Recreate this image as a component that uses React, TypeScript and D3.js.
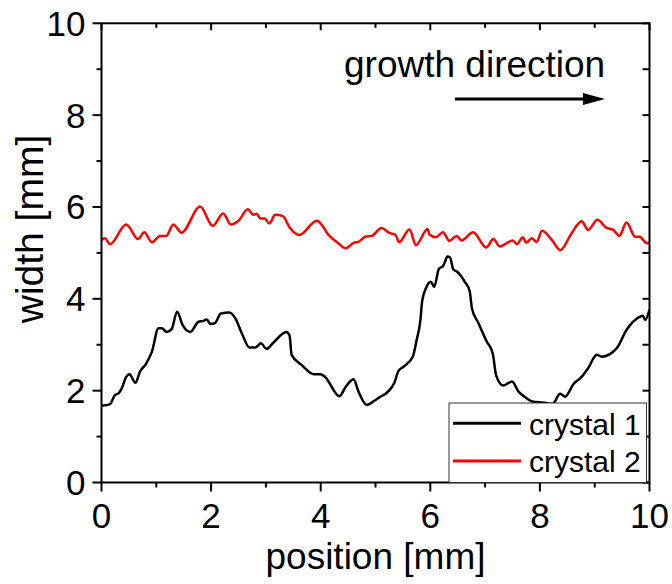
import React from "react";
import * as d3 from "d3";

const crystal1X = [0.00,0.15,0.25,0.31,0.37,0.45,0.51,0.62,0.70,0.81,0.92,1.04,1.10,1.19,1.28,1.38,1.48,1.62,1.77,1.86,1.92,1.99,2.07,2.18,2.33,2.44,2.56,2.70,2.81,2.91,3.01,3.14,3.37,3.43,3.47,3.65,3.87,3.99,4.08,4.34,4.46,4.60,4.69,4.84,4.98,5.08,5.23,5.34,5.42,5.51,5.68,5.75,5.82,5.85,5.92,6.01,6.07,6.16,6.23,6.27,6.31,6.36,6.42,6.49,6.63,6.72,6.76,6.88,7.03,7.14,7.20,7.33,7.49,7.61,7.73,7.88,8.06,8.23,8.37,8.46,8.61,8.76,8.88,9.04,9.13,9.40,9.58,9.81,9.88,9.92,10.0];
const crystal1Y = [1.67,1.70,1.91,1.94,2.05,2.30,2.36,2.17,2.41,2.58,2.85,3.36,3.36,3.28,3.34,3.72,3.43,3.28,3.50,3.52,3.55,3.45,3.47,3.68,3.70,3.58,3.25,2.94,2.94,3.03,2.91,3.05,3.28,3.21,2.78,2.56,2.36,2.36,2.30,1.88,2.09,2.25,1.98,1.69,1.78,1.86,1.98,2.16,2.43,2.52,2.74,3.10,3.54,3.94,4.23,4.37,4.26,4.66,4.71,4.81,4.92,4.90,4.64,4.59,4.37,4.16,3.79,3.47,3.07,2.81,2.34,2.11,2.20,1.98,1.86,1.76,1.74,1.71,1.93,1.87,2.14,2.30,2.49,2.78,2.74,2.92,3.32,3.60,3.63,3.54,3.76];

const crystal2X = [0.00,0.06,0.155,0.45,0.67,0.78,0.92,1.07,1.18,1.31,1.46,1.80,2.03,2.22,2.36,2.50,2.67,2.77,2.83,2.90,2.98,3.06,3.17,3.31,3.43,3.61,3.93,4.16,4.32,4.46,4.60,4.69,4.81,4.93,5.11,5.26,5.36,5.43,5.62,5.74,5.95,5.98,6.10,6.23,6.35,6.48,6.57,6.78,7.02,7.15,7.27,7.39,7.50,7.58,7.69,7.75,7.85,7.94,8.04,8.22,8.37,8.58,8.76,8.88,9.05,9.21,9.34,9.45,9.58,9.74,9.82,9.95,10.0];
const crystal2Y = [5.28,5.32,5.19,5.62,5.30,5.45,5.23,5.37,5.37,5.62,5.44,6.01,5.59,5.86,5.62,5.70,5.95,5.83,5.85,5.75,5.75,5.64,5.83,5.80,5.56,5.39,5.70,5.37,5.21,5.10,5.22,5.24,5.35,5.37,5.54,5.43,5.40,5.23,5.51,5.17,5.52,5.41,5.34,5.45,5.26,5.37,5.27,5.45,5.12,5.30,5.14,5.21,5.27,5.19,5.34,5.22,5.32,5.24,5.48,5.28,5.06,5.43,5.69,5.50,5.72,5.55,5.50,5.37,5.66,5.35,5.35,5.21,5.22];

const majorTicks = [0, 2, 4, 6, 8, 10];
const minorTicks = [1, 3, 5, 7, 9];
const seriesNames = ["crystal 1", "crystal 2"];
const seriesColors = ["#000000", "#ff0000"];
const xTitle = "position [mm]";
const yTitle = "width [mm]";
const annotation = "growth direction";

const FONT = "'Liberation Sans', Arial, sans-serif";

export default function App() {
  const left = 101.5, right = 649.5, top = 23.3, bottom = 482.5;
  const x = d3.scaleLinear().domain([0, 10]).range([left, right]);
  const y = d3.scaleLinear().domain([0, 10]).range([bottom, top]);

  const line = d3.line<[number, number]>()
    .x(d => x(d[0]))
    .y(d => y(d[1]))
    .curve(d3.curveMonotoneX);

  const s1 = crystal1X.map((v, i) => [v, crystal1Y[i]] as [number, number]);
  const s2 = crystal2X.map((v, i) => [v, crystal2Y[i]] as [number, number]);

  const legX = 449, legY = 403, legW = 197.5, legH = 79.5;

  return (
    <svg width={672} height={584} style={{ position: "absolute", left: 0, top: 0, background: "#fff" }}>
      <defs>
        <clipPath id="plotClip">
          <rect x={left} y={top} width={right - left} height={bottom - top} />
        </clipPath>
      </defs>
      <rect x={0} y={0} width={672} height={584} fill="#fff" />

      <g clipPath="url(#plotClip)">
        <path d={line(s2) || ""} fill="none" stroke={seriesColors[1]} strokeWidth={2.5} strokeLinejoin="round" />
        <path d={line(s1) || ""} fill="none" stroke={seriesColors[0]} strokeWidth={2.5} strokeLinejoin="round" />
      </g>

      {/* frame */}
      <rect x={left} y={top} width={right - left} height={bottom - top} fill="none" stroke="#000" strokeWidth={2} />

      {/* left axis ticks (outward) */}
      {majorTicks.map(t => (
        <line key={"yl" + t} x1={left - 9} x2={left} y1={y(t)} y2={y(t)} stroke="#000" strokeWidth={2} />
      ))}
      {minorTicks.map(t => (
        <line key={"ylm" + t} x1={left - 5} x2={left} y1={y(t)} y2={y(t)} stroke="#000" strokeWidth={2} />
      ))}
      {/* right axis ticks (inward) */}
      {[...majorTicks, ...minorTicks].map(t => (
        <line key={"yr" + t} x1={right - 7} x2={right} y1={y(t)} y2={y(t)} stroke="#000" strokeWidth={2} />
      ))}
      {/* bottom ticks (outward) */}
      {majorTicks.map(t => (
        <line key={"xb" + t} x1={x(t)} x2={x(t)} y1={bottom} y2={bottom + 9} stroke="#000" strokeWidth={2} />
      ))}
      {minorTicks.map(t => (
        <line key={"xbm" + t} x1={x(t)} x2={x(t)} y1={bottom} y2={bottom + 5} stroke="#000" strokeWidth={2} />
      ))}
      {/* top ticks (inward) */}
      {majorTicks.map(t => (
        <line key={"xt" + t} x1={x(t)} x2={x(t)} y1={top} y2={top + 7} stroke="#000" strokeWidth={2} />
      ))}
      {minorTicks.map(t => (
        <line key={"xtm" + t} x1={x(t)} x2={x(t)} y1={top} y2={top + 4.5} stroke="#000" strokeWidth={2} />
      ))}

      {/* tick labels */}
      {majorTicks.map(t => (
        <text key={"ylab" + t} x={left - 16} y={y(t)} dy="0.355em" textAnchor="end" fontFamily={FONT} fontSize={35} fill="#000">{t}</text>
      ))}
      {majorTicks.map(t => (
        <text key={"xlab" + t} x={x(t)} y={528} textAnchor="middle" fontFamily={FONT} fontSize={35} fill="#000">{t}</text>
      ))}

      {/* axis titles */}
      <text x={375.5} y={569} textAnchor="middle" fontFamily={FONT} fontSize={37} fill="#000">{xTitle}</text>
      <text transform={`translate(43,229) rotate(-90)`} textAnchor="middle" fontFamily={FONT} fontSize={39} fill="#000">{yTitle}</text>

      {/* annotation */}
      <text x={344} y={77} fontFamily={FONT} fontSize={37} fill="#000">{annotation}</text>
      <line x1={455} x2={586} y1={99} y2={99} stroke="#000" strokeWidth={3} />
      <path d="M583,93 L605,99 L583,105 Z" fill="#000" />

      {/* legend */}
      <rect x={legX} y={legY} width={legW} height={legH} fill="#fff" stroke="#333" strokeWidth={1} />
      {seriesNames.map((n, i) => (
        <g key={n}>
          <line x1={453} x2={521} y1={423.3 + i * 37.7} y2={423.3 + i * 37.7} stroke={seriesColors[i]} strokeWidth={3} />
          <text x={529} y={435 + i * 36.7} fontFamily={FONT} fontSize={30} fill="#000">{n}</text>
        </g>
      ))}
    </svg>
  );
}
